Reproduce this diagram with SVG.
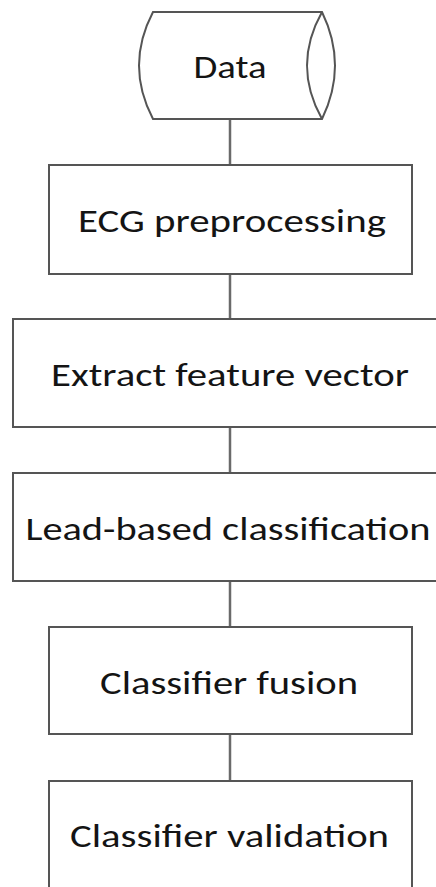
<svg xmlns="http://www.w3.org/2000/svg" width="436" height="887" viewBox="0 0 436 887">
  <style>
    .shape { fill: #ffffff; stroke: #555555; stroke-width: 2; }
    .link { stroke: #6a6a6a; stroke-width: 2.5; fill: none; }
    .label { font-family: "Carlito", "Lato", "Open Sans", sans-serif; font-size: 33px; fill: #141414; text-anchor: middle; }
  </style>
  <rect width="436" height="887" fill="#ffffff"/>

  <!-- connectors between consecutive steps -->
  <g id="connectors">
    <line class="link" x1="230" y1="119" x2="230" y2="165"/>
    <line class="link" x1="230" y1="274" x2="230" y2="319"/>
    <line class="link" x1="230" y1="427" x2="230" y2="473"/>
    <line class="link" x1="230" y1="581" x2="230" y2="627"/>
    <line class="link" x1="230" y1="734" x2="230" y2="781"/>
  </g>

  <!-- stored data (horizontal cylinder) -->
  <g id="data">
    <path class="shape" d="M153,12 L322,12 Q348,65.5 322,119 L153,119 Q125,65.5 153,12 Z"/>
    <path class="shape" d="M322,12 Q292,65.5 322,119" fill="none"/>
    <text class="label" x="230" y="78" textLength="73" lengthAdjust="spacingAndGlyphs">Data</text>
  </g>

  <g id="ecg-preprocessing">
    <rect class="shape" x="49" y="165" width="363" height="109"/>
    <text class="label" x="232" y="232" textLength="308" lengthAdjust="spacingAndGlyphs">ECG preprocessing</text>
  </g>

  <g id="extract-feature-vector">
    <rect class="shape" x="13" y="319" width="434" height="108"/>
    <text class="label" x="230" y="386" textLength="358" lengthAdjust="spacingAndGlyphs">Extract feature vector</text>
  </g>

  <g id="lead-based-classification">
    <rect class="shape" x="13" y="473" width="434" height="108"/>
    <text class="label" x="228" y="540" textLength="405" lengthAdjust="spacingAndGlyphs">Lead-based classification</text>
  </g>

  <g id="classifier-fusion">
    <rect class="shape" x="49" y="627" width="363" height="107"/>
    <text class="label" x="229" y="694" textLength="258" lengthAdjust="spacingAndGlyphs">Classifier fusion</text>
  </g>

  <g id="classifier-validation">
    <rect class="shape" x="49" y="781" width="363" height="108"/>
    <text class="label" x="229.5" y="847" textLength="319" lengthAdjust="spacingAndGlyphs">Classifier validation</text>
  </g>
</svg>
